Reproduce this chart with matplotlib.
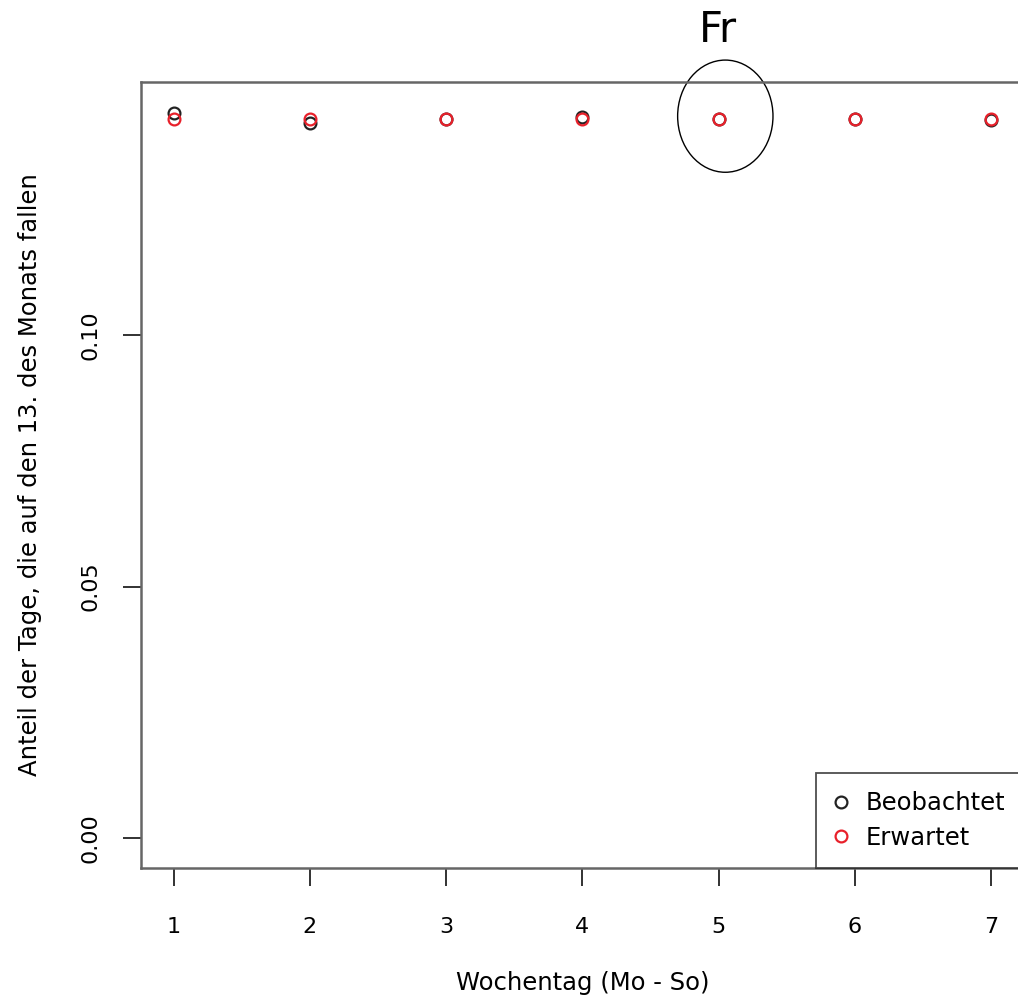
import matplotlib.pyplot as plt
from matplotlib.patches import Ellipse

# Daten
wochentag = [1, 2, 3, 4, 5, 6, 7]
beobachtet = [0.1441, 0.1422, 0.1429, 0.1434, 0.1429, 0.1429, 0.1428]
erwartet = [1 / 7] * 7
y_ticks = [0.00, 0.05, 0.10]

plt.rcParams['font.family'] = ['DejaVu Sans']

fig = plt.figure(figsize=(10.18, 10.02), dpi=100)
# Achse ragt rechts über das Bild hinaus (Original ist abgeschnitten)
ax = fig.add_axes([0.1385, 0.1337, 0.867, 0.7845])

ax.plot(wochentag, beobachtet, 'o', mfc='none', mec='#222222', mew=1.6,
        ms=8.5, label='Beobachtet')
ax.plot(wochentag, erwartet, 'o', mfc='none', mec='#e8202a', mew=1.6,
        ms=8.5, label='Erwartet')

ax.set_xlim(0.76, 7.24)
ax.set_ylim(-0.00596, 0.1503)

ax.set_xticks(wochentag)
ax.set_yticks(y_ticks)
ax.set_yticklabels(['0.00', '0.05', '0.10'], rotation=90, va='center')
ax.tick_params(axis='both', length=13, width=1.3, labelsize=16, color='#222222')
ax.tick_params(axis='x', pad=22)
ax.tick_params(axis='y', pad=16)

for s in ax.spines.values():
    s.set_color('#666666')
    s.set_linewidth(1.8)

ax.set_xlabel('Wochentag (Mo - So)', fontsize=17.5, labelpad=25)
ax.set_ylabel('Anteil der Tage, die auf den 13. des Monats fallen', fontsize=17.5,
              labelpad=28)

leg = ax.legend(loc='lower right', bbox_to_anchor=(1.0, 0.0), frameon=True,
                fancybox=False, edgecolor='#222222', fontsize=17.5,
                borderaxespad=0, handletextpad=0.7, borderpad=0.75,
                labelspacing=0.44, handlelength=0.6)
leg.get_frame().set_linewidth(1.3)

# Markierung Freitag
ell = Ellipse((5.05, 0.1435), width=0.70, height=0.0223, fill=False,
              edgecolor='black', lw=1.0, clip_on=False)
ax.add_patch(ell)
fig.text(718 / 1018, 1 - 30 / 1002, 'Fr', fontsize=30, ha='center', va='center')

fig.savefig('out.png', dpi=100)
